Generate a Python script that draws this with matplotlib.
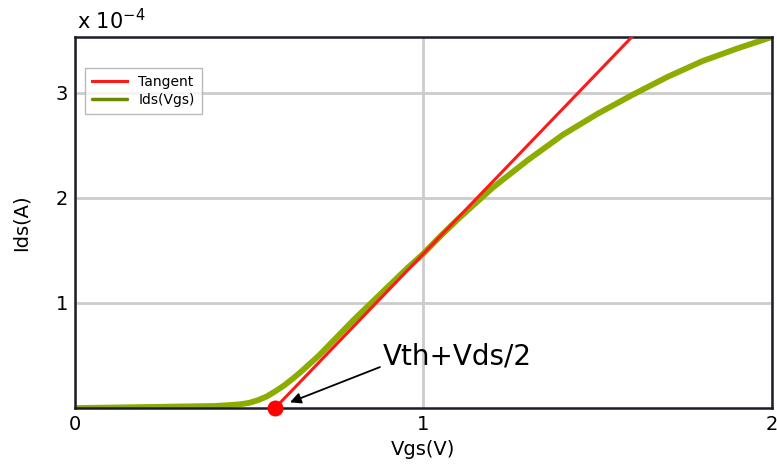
import matplotlib
matplotlib.use("Agg")
import matplotlib.pyplot as plt

# Ids(Vgs) curve, current in units of 1e-4 A
vgs = [0.0, 0.2, 0.4, 0.45, 0.475, 0.5, 0.525, 0.55, 0.575, 0.6, 0.625, 0.65, 0.675,
       0.7, 0.75, 0.8, 0.85, 0.9, 0.95, 1.0, 1.05, 1.1, 1.15, 1.2, 1.25, 1.3,
       1.4, 1.5, 1.6, 1.7, 1.8, 1.9, 2.0]
ids_e4 = [0.0, 0.01, 0.02, 0.03, 0.037, 0.05, 0.075, 0.11, 0.16, 0.215, 0.28, 0.35, 0.425,
          0.50, 0.67, 0.84, 1.00, 1.16, 1.32, 1.47, 1.64, 1.80, 1.95, 2.10, 2.23, 2.36,
          2.60, 2.80, 2.98, 3.15, 3.30, 3.42, 3.53]

# tangent line through the steepest point
tangent_x = [0.574, 1.598]
tangent_y = [0.0, 3.53]
vth_point = (0.574, 0.0)

x_ticks = [0, 1, 2]
y_ticks = [1, 2, 3]

fig = plt.figure(figsize=(7.77, 4.68), dpi=100)
ax = fig.add_axes([0.0965, 0.128, 0.897, 0.793])

ax.plot(tangent_x, tangent_y, color="#ff1a1a", lw=2.2, label="Tangent", zorder=3)
ax.plot(vgs, ids_e4, color="#8cac00", lw=4.2, label="Ids(Vgs)", zorder=2,
        solid_joinstyle="round", solid_capstyle="round")
ax.plot(*vth_point, "o", color="#ff0000", ms=10.5, zorder=4, clip_on=False)

ax.text(0.884, 0.49, "Vth+Vds/2", fontsize=20, va="center", ha="left")
ax.annotate("", xy=(0.617, 0.055), xytext=(0.875, 0.39),
            arrowprops=dict(arrowstyle="-|>", color="black", lw=1.3,
                            shrinkA=0, shrinkB=0, mutation_scale=16))

ax.set_xlim(0, 2)
ax.set_ylim(0, 3.53)
ax.set_xticks(x_ticks)
ax.set_yticks(y_ticks)
ax.tick_params(length=0, labelsize=14, pad=5)
ax.grid(True, color="#cccccc", lw=2)
ax.set_axisbelow(True)
for spine in ax.spines.values():
    spine.set_color("#1c1c2a")
    spine.set_linewidth(1.8)

ax.set_xlabel("Vgs(V)", fontsize=14, labelpad=4)
ax.set_ylabel("Ids(A)", fontsize=14, labelpad=18)
fig.text(0.143, 0.957, "x 10$^{-4}$", fontsize=15, ha="center", va="center")

leg = ax.legend(loc="upper left", fontsize=10, frameon=True, fancybox=False,
                bbox_to_anchor=(0.005, 0.935), handlelength=2.5, borderpad=0.5,
                labelspacing=0.3)
leg.get_frame().set_edgecolor("#aaaaaa")
leg.get_frame().set_linewidth(1)
leg.get_lines()[1].set_color("#6b8a00")
leg.get_lines()[1].set_linewidth(2.5)

fig.savefig("out.png", dpi=100)
